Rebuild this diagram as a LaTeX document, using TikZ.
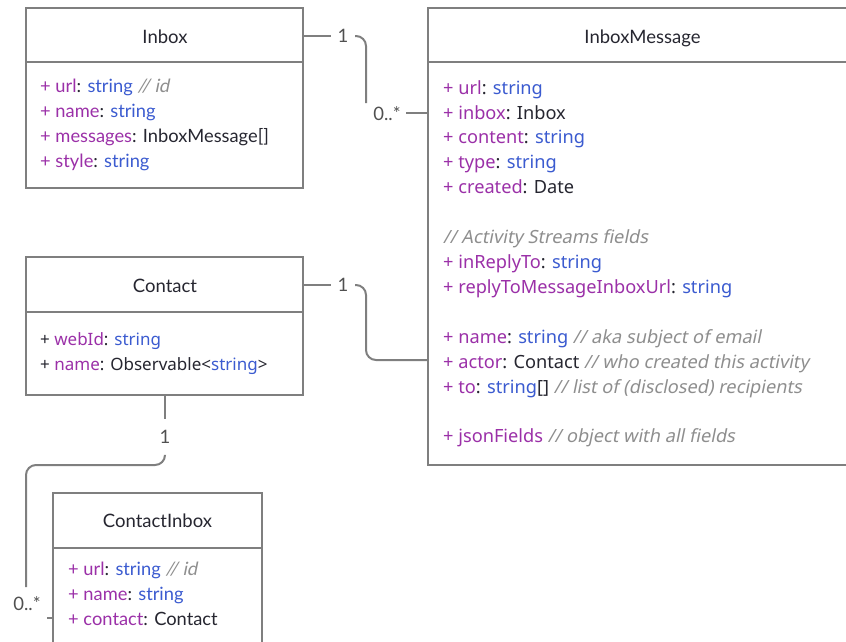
\documentclass[tikz,border=0pt]{standalone}
\usepackage{fontspec}
\setmainfont{Lato}
\newfontfamily\notofont{Noto Sans}
% oblique variants (upright widths, slanted) for the comment texts
\newfontfamily\notoslant{Noto Sans}[FakeSlant=0.2]
\newfontfamily\latoslant{Lato}[FakeSlant=0.2]

\definecolor{attrpurple}{HTML}{9B30A8}
\definecolor{typeblue}{HTML}{3B5BD0}
\definecolor{notegray}{HTML}{8E8E8E}
\definecolor{inkdark}{HTML}{262630}
\definecolor{multgray}{HTML}{505050}
\definecolor{framegray}{HTML}{7F7F7F}

% inline markup for attribute names, types and comments
\newcommand{\umlattr}[1]{\textcolor{attrpurple}{#1}}
\newcommand{\umltype}[1]{\textcolor{typeblue}{#1}}
\newcommand{\umlnote}[1]{\textcolor{notegray}{\latoslant #1}}
\newcommand{\umlremark}[1]{\textcolor{notegray}{\notoslant #1}}

\tikzset{
  classbox/.style={draw=framegray, line width=2pt, fill=white, rectangle,
    inner sep=0pt, outer sep=0pt, anchor=north west},
  divider/.style={draw=framegray, line width=2pt},
  classtitle/.style={font=\fontsize{18.5}{22}\selectfont, text=inkdark,
    inner sep=0pt, anchor=base},
  latofield/.style={font=\fontsize{18.3}{22}\selectfont, text=inkdark,
    anchor=base west, inner sep=0pt},
  notofield/.style={font=\notofont\fontsize{18.2}{22}\selectfont, text=inkdark,
    anchor=base west, inner sep=0pt},
  smallnotofield/.style={notofield, font=\notofont\fontsize{17}{20}\selectfont},
  assoc/.style={draw=framegray, line width=2pt, rounded corners=10pt},
  mult/.style={font=\fontsize{18.5}{22}\selectfont, text=multgray,
    inner xsep=6.5pt, inner ysep=11pt},
  multend/.style={font=\fontsize{18.5}{22}\selectfont, text=multgray,
    inner sep=0pt, anchor=base},
}

\begin{document}
\begin{tikzpicture}[x=1pt, y=-1pt]
  \useasboundingbox (0,0) rectangle (846,641);
  \clip (0,0) rectangle (846,641);

  % ---------- class boxes ----------
  \node[classbox, minimum width=277pt, minimum height=179.5pt] (inbox) at (26,8) {};
  \node[classbox, minimum width=480pt, minimum height=457pt] (msg) at (427.5,8) {};
  \node[classbox, minimum width=277pt, minimum height=138pt] (contact) at (26,257) {};
  \node[classbox, minimum width=209pt, minimum height=200pt] (cinbox) at (53,493) {};

  % header separators
  \draw[divider] ([yshift=-54pt]inbox.north west) -- ([yshift=-54pt]inbox.north east);
  \draw[divider] ([yshift=-54pt]msg.north west) -- ([yshift=-54pt]msg.north east);
  \draw[divider] ([yshift=-55pt]contact.north west) -- ([yshift=-55pt]contact.north east);
  \draw[divider] ([yshift=-54.5pt]cinbox.north west) -- ([yshift=-54.5pt]cinbox.north east);

  % ---------- titles ----------
  \node[classtitle] (inboxT) at (165,43) {Inbox};
  \node[classtitle] (msgT) at (642.5,43) {InboxMessage};
  \node[classtitle] (contactT) at (165,292) {Contact};
  \node[classtitle] (cinboxT) at (157.5,527) {ContactInbox};

  % ---------- Inbox attributes ----------
  \node[latofield] (inboxA) at (40,92) {\umlattr{+ url}: \umltype{string} \umlnote{// id}};
  \node[latofield] (inboxB) at (40,117) {\umlattr{+ name}: \umltype{string}};
  \node[latofield] (inboxC) at (40,142) {\umlattr{+ messages}: InboxMessage[]};
  \node[latofield] (inboxD) at (40,167) {\umlattr{+ style}: \umltype{string}};

  % ---------- InboxMessage attributes ----------
  \node[notofield] (msgA) at (443,94) {\umlattr{+ url}: \umltype{string}};
  \node[notofield] (msgB) at (443,119) {\umlattr{+ inbox}: Inbox};
  \node[notofield] (msgC) at (443,143.5) {\umlattr{+ content}: \umltype{string}};
  \node[notofield] (msgD) at (443,168) {\umlattr{+ type}: \umltype{string}};
  \node[notofield] (msgE) at (443,193) {\umlattr{+ created}: Date};
  \node[notofield] (msgF) at (443,243) {\umlremark{// Activity Streams fields}};
  \node[notofield] (msgG) at (443,268) {\umlattr{+ inReplyTo}: \umltype{string}};
  \node[notofield] (msgH) at (443,293) {\umlattr{+ replyToMessageInboxUrl}: \umltype{string}};
  \node[notofield] (msgI) at (443,343) {\umlattr{+ name}: \umltype{string} \umlremark{// aka subject of email}};
  \node[notofield] (msgJ) at (443,368) {\umlattr{+ actor}: Contact \umlremark{// who created this activity}};
  \node[notofield] (msgK) at (443,393) {\umlattr{+ to}: \umltype{string}[] \umlremark{// list of (disclosed) recipients}};
  \node[notofield] (msgL) at (443,442) {\umlattr{+ jsonFields} \umlremark{// object with all fields}};

  % ---------- Contact attributes ----------
  \node[smallnotofield] (contactA) at (40,345) {+ \umlattr{webId}: \umltype{string}};
  \node[smallnotofield] (contactB) at (40,370) {+ \umlattr{name}: Observable<\umltype{string}>};

  % ---------- ContactInbox attributes ----------
  \node[latofield] (cinboxA) at (68,575) {\umlattr{+ url}: \umltype{string} \umlnote{// id}};
  \node[latofield] (cinboxB) at (68,600) {\umlattr{+ name}: \umltype{string}};
  \node[latofield] (cinboxC) at (68,625) {\umlattr{+ contact}: Contact};

  % ---------- Inbox -- InboxMessage ----------
  \node[mult] (m1a) at (343,36) {1};
  \node[multend] (m1b) at (387,120) {0..*};
  \coordinate (bend1) at (366,103);
  \coordinate (end1) at (406,113);
  \draw[assoc] (inbox.north east |- m1a) -- (m1a.west);
  \draw[assoc] (m1a.east) -| (bend1);
  \draw[assoc] (end1) -- (msg.west |- end1);

  % ---------- Contact -- InboxMessage ----------
  \node[mult] (m2a) at (343,285) {1};
  \coordinate (bend2) at (366,360);
  \draw[assoc] (contact.north east |- m2a) -- (m2a.west);
  \draw[assoc] (m2a.east) -| (bend2) -- (msg.west |- bend2);

  % ---------- Contact -- ContactInbox ----------
  \node[mult] (m3a) at (165,437) {1};
  \node[multend] (m3b) at (27,610) {0..*};
  \coordinate (bend3a) at (26,465);
  \coordinate (bend3b) at (26,587);
  \coordinate (end3) at (47,618);
  \draw[assoc] (contact.south -| m3a) -- (m3a.north);
  \draw[assoc] (m3a.south) |- (bend3a) -- (bend3b);
  \draw[assoc] (end3) -- (cinbox.west |- end3);
\end{tikzpicture}
\end{document}
